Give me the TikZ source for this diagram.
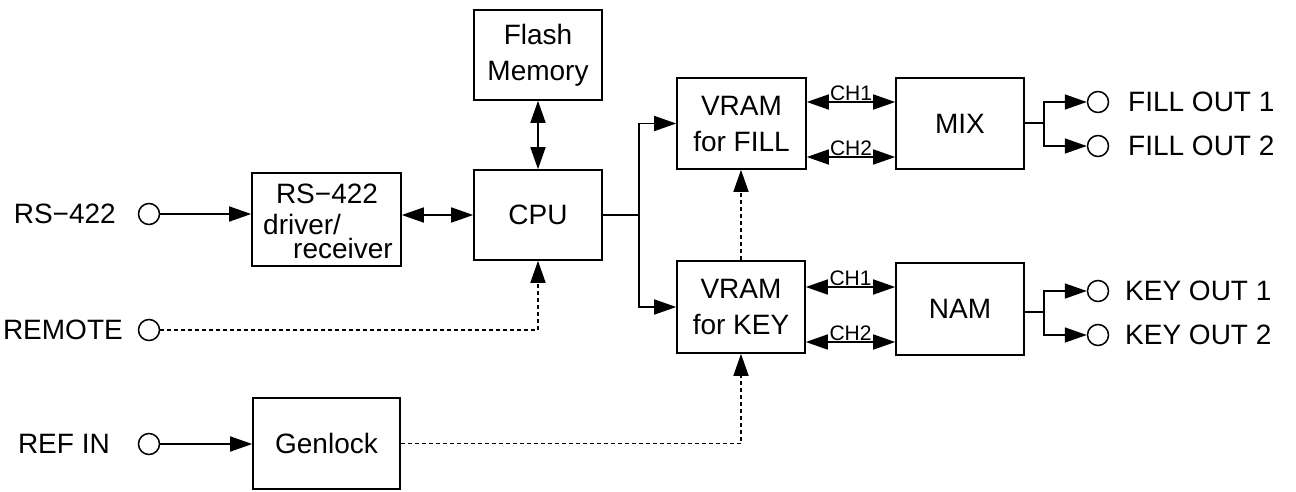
\documentclass[tikz,border=0pt]{standalone}
\usepackage{fontspec}
\setmainfont{Liberation Sans}
\usetikzlibrary{arrows.meta}
\begin{document}
\begin{tikzpicture}[x=1pt,y=-1pt,
  every node/.style={font=\fontsize{28}{36}\selectfont},
  blk/.style={draw,line width=1.6pt,align=center,inner sep=0pt},
  port/.style={draw,circle,line width=1.5pt,fill=white,minimum size=21pt,inner sep=0pt},
  conn/.style={line width=1.6pt},
  arr/.style={conn,-{Triangle[length=22pt,width=15pt]}},
  biarr/.style={conn,{Triangle[length=22pt,width=15pt]}-{Triangle[length=22pt,width=15pt]}},
  dotl/.style={dash pattern=on 4pt off 3pt},
  lbl/.style={inner sep=0pt},
  chl/.style={font=\fontsize{21}{24}\selectfont,inner sep=1pt,anchor=south}]
\useasboundingbox (0,0) rectangle (1296,491);

% blocks
\node[blk,minimum width=128pt,minimum height=90pt] (flash) at (538,55) {Flash\\Memory};
\node[blk,minimum width=128pt,minimum height=90pt] (cpu) at (538,215) {CPU};
\node[blk,minimum width=149pt,minimum height=93pt] (rs) at (326.5,219.5) {};
\node[lbl,anchor=base] (rst1) at (327,203) {RS−422};
\node[lbl,anchor=base west,text depth=0pt] (rst2) at (263,234) {driver/};
\node[lbl,anchor=base east,text height=14pt] (rst3) at (393,258) {receiver};
\node[blk,minimum width=147pt,minimum height=91pt] (gen) at (326.5,443.5) {Genlock};
\node[blk,minimum width=129pt,minimum height=91pt] (vf) at (741.5,123.5) {VRAM\\for FILL};
\node[blk,minimum width=128pt,minimum height=92pt] (vk) at (741,307) {VRAM\\for KEY};
\node[blk,minimum width=128pt,minimum height=91pt] (mix) at (960,123.5) {MIX};
\node[blk,minimum width=128pt,minimum height=92pt] (nam) at (960,309) {NAM};

% input ports
\node[port] (rsin) at (149,214) {};
\node[lbl,anchor=east] (rsinl) at (116,214) {RS−422};
\node[port] (remin) at (149,330) {};
\node[lbl,anchor=east] (reminl) at (123,330) {REMOTE};
\node[port] (refin) at (149,444) {};
\node[lbl,anchor=east] (refinl) at (110,444) {REF IN};

% output ports
\node[port] (fo1) at (1098,102) {};
\node[port] (fo2) at (1098,146) {};
\node[port] (ko1) at (1098,291) {};
\node[port] (ko2) at (1098,335) {};
\node[lbl,anchor=west] (fo1l) at (1128,102) {FILL OUT 1};
\node[lbl,anchor=west] (fo2l) at (1128,146) {FILL OUT 2};
\node[lbl,anchor=west] (ko1l) at (1125,291) {KEY OUT 1};
\node[lbl,anchor=west] (ko2l) at (1125,335) {KEY OUT 2};

% helper coordinates
\coordinate (split) at (639,215);
\coordinate (f1) at (0,102);
\coordinate (f2) at (0,157);
\coordinate (k1) at (0,287);
\coordinate (k2) at (0,342);
\coordinate (mixout) at (1044,123);
\coordinate (namout) at (1044,312);

% connections
\draw[arr] (rsin.east) -- (rsin -| rs.west);
\draw[biarr] (rs.east |- cpu) -- (cpu.west);
\draw[biarr] (flash.south) -- (cpu.north);
\draw[conn] (cpu.east) -- (split);
\draw[arr] (split) |- (vf.west);
\draw[arr] (split) |- (vk.west);

\draw[biarr] (vf.east |- f1) -- (mix.west |- f1) node[chl,midway] (ch1a) {CH1};
\draw[biarr] (vf.east |- f2) -- (mix.west |- f2) node[chl,midway] (ch2a) {CH2};
\draw[biarr] (vk.east |- k1) -- (nam.west |- k1) node[chl,midway] (ch1b) {CH1};
\draw[biarr] (vk.east |- k2) -- (nam.west |- k2) node[chl,midway] (ch2b) {CH2};

\draw[conn] (mix.east |- mixout) -- (mixout);
\draw[arr] (mixout) |- (fo1.west);
\draw[arr] (mixout) |- (fo2.west);
\draw[conn] (nam.east |- namout) -- (namout);
\draw[arr] (namout) |- (ko1.west);
\draw[arr] (namout) |- (ko2.west);

\draw[arr,dotl] (vk.north) -- (vk.north |- vf.south);
\draw[arr,dotl] (remin.east) -| (cpu.south);
\draw[arr] (refin.east) -- (refin -| gen.west);
\draw[arr,dotl] (gen.east) -| (vk.south);
\end{tikzpicture}
\end{document}
